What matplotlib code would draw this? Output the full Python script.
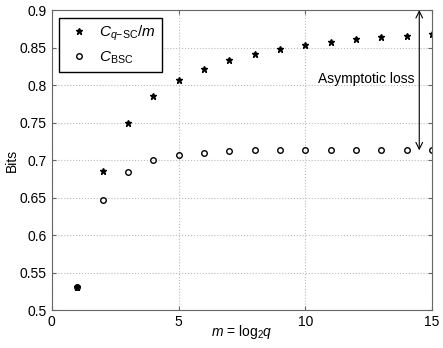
import matplotlib
matplotlib.use('Agg')
import matplotlib.pyplot as plt

plt.rcParams['font.family'] = ['Liberation Sans', 'DejaVu Sans']
plt.rcParams['mathtext.fontset'] = 'custom'
plt.rcParams['mathtext.rm'] = 'Liberation Sans'
plt.rcParams['mathtext.it'] = 'Liberation Sans:italic'
plt.rcParams['mathtext.bf'] = 'Liberation Sans:bold'

m      = [1, 2, 3, 4, 5, 6, 7, 8, 9, 10, 11, 12, 13, 14, 15]
c_qsc  = [0.531, 0.686, 0.750, 0.785, 0.807, 0.822, 0.833, 0.841, 0.848,
          0.853, 0.857, 0.861, 0.864, 0.866, 0.868]
c_bsc  = [0.531, 0.647, 0.684, 0.700, 0.707, 0.710, 0.712, 0.713, 0.713,
          0.713, 0.713, 0.713, 0.713, 0.713, 0.714]
xticks = [0, 5, 10, 15]
yticks = [0.5, 0.55, 0.6, 0.65, 0.7, 0.75, 0.8, 0.85, 0.9]
ylabels = ['0.5', '0.55', '0.6', '0.65', '0.7', '0.75', '0.8', '0.85', '0.9']
arrow_x = 14.5

fig = plt.figure(figsize=(4.43, 3.48), dpi=100)
ax  = fig.add_axes([0.117, 0.109, 0.858, 0.862])

ax.plot(m, c_qsc, ls='none', marker='*', ms=4.5, color='black',
        label=r'$C_{q\mathrm{-SC}}/m$')
ax.plot(m, c_bsc, ls='none', marker='o', ms=4, mfc='none', mec='black',
        mew=1.0, label=r'$C_{\mathrm{BSC}}$')

ax.annotate('', xy=(arrow_x, 0.9), xytext=(arrow_x, c_bsc[-1] - 0.001),
            arrowprops=dict(arrowstyle='<->', color='black', lw=0.8,
                            shrinkA=0, shrinkB=0, mutation_scale=12))
ax.text(arrow_x - 0.2, 0.808, 'Asymptotic loss', ha='right', va='center',
        fontsize=10)

ax.set_xlim(0, 15)
ax.set_ylim(0.5, 0.9)
ax.set_xticks(xticks)
ax.set_yticks(yticks)
ax.set_yticklabels(ylabels)
ax.tick_params(direction='in', labelsize=10, length=3, color='#666666',
               top=True, right=True)
for s in ax.spines.values():
    s.set_color('#666666')
ax.grid(True, ls=':', color='#bbbbbb', lw=0.8)
ax.set_xlabel(r'$m$ = log$_2$$q$', fontsize=10, labelpad=-4)
ax.set_ylabel('Bits', fontsize=10, labelpad=1)

ax.legend(loc='upper left', fancybox=False, edgecolor='black', framealpha=1,
          fontsize=11, borderaxespad=0.5, handletextpad=0.4, labelspacing=0.4,
          handlelength=1.8)

fig.savefig('out.png', dpi=100)
